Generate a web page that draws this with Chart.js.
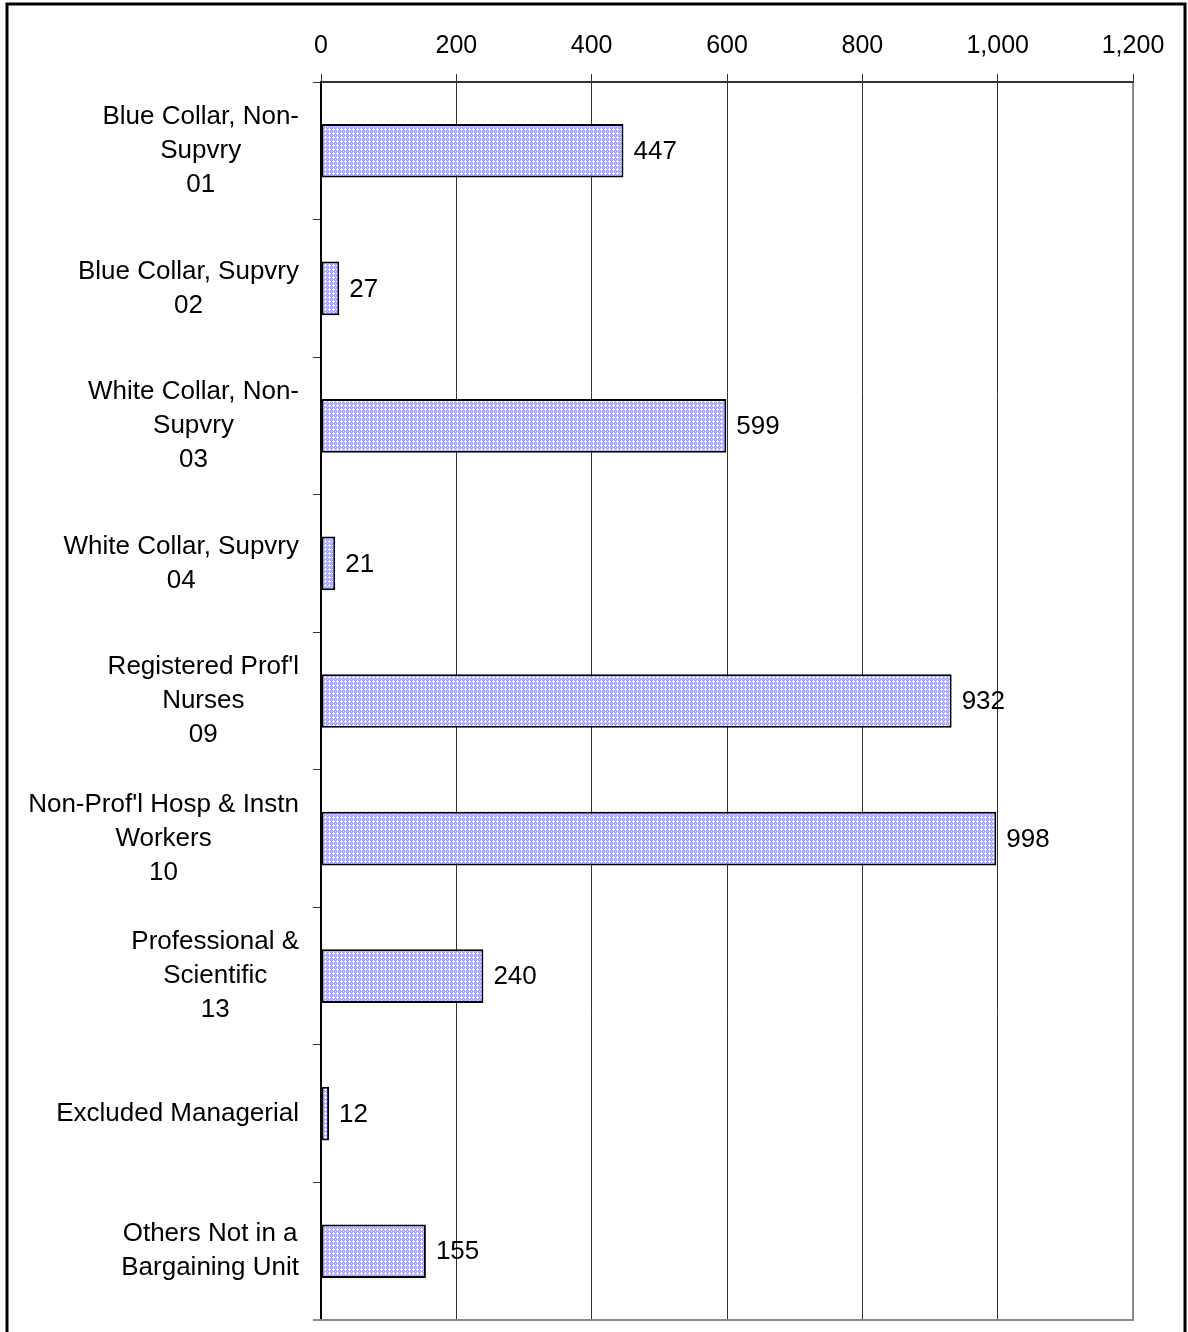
<!DOCTYPE html>
<html>
<head>
<meta charset="utf-8">
<script src="https://cdn.jsdelivr.net/npm/chart.js@4/dist/chart.umd.min.js"></script>
<style>
  html, body { margin: 0; padding: 0; background: #fff; }
  #wrap { width: 1188px; height: 1332px; position: relative; }
</style>
</head>
<body>
<div id="wrap"><canvas id="chart"></canvas></div>
<script>
// Category labels (one entry per line of the wrapped label)
const categories = [
    ['Blue Collar, Non-', 'Supvry', '01'],
    ['Blue Collar, Supvry', '02'],
    ['White Collar, Non-', 'Supvry', '03'],
    ['White Collar, Supvry', '04'],
    ["Registered Prof'l", 'Nurses', '09'],
    ["Non-Prof'l Hosp & Instn", 'Workers', '10'],
    ['Professional &', 'Scientific', '13'],
    ['Excluded Managerial'],
    ['Others Not in a', 'Bargaining Unit']
];
const counts = [447, 27, 599, 21, 932, 998, 240, 12, 155];
const xTicks = [0, 200, 400, 600, 800, 1000, 1200];

const FONT = '"Liberation Sans", Arial, sans-serif';

// light periwinkle crosshatch fill, like the Excel pattern
function makeHatch() {
    const c = document.createElement('canvas');
    c.width = 4; c.height = 4;
    const g = c.getContext('2d');
    g.fillStyle = '#a9a9f7';
    g.fillRect(0, 0, 4, 4);
    g.fillStyle = '#ffffff';
    g.fillRect(1, 0, 1, 3);
    g.fillRect(0, 1, 3, 1);
    g.fillStyle = '#d6d6fb';
    g.fillRect(3, 3, 1, 1);
    return g.createPattern(c, 'repeat');
}

// outer frame + grey plot-area edges
const framePlugin = {
    id: 'frame',
    afterDraw(chart) {
        const ctx = chart.ctx, a = chart.chartArea;
        ctx.save();
        ctx.strokeStyle = '#000';
        ctx.lineWidth = 3;
        ctx.beginPath();
        ctx.moveTo(7, chart.height);
        ctx.lineTo(7, 4);
        ctx.lineTo(chart.width - 3, 4);
        ctx.lineTo(chart.width - 3, chart.height);
        ctx.stroke();

        ctx.strokeStyle = '#8a8a8a';
        ctx.lineWidth = 2;
        ctx.beginPath();
        ctx.moveTo(a.left - 8, a.bottom);
        ctx.lineTo(a.right, a.bottom);
        ctx.lineTo(a.right, a.top + 1);
        ctx.stroke();
        ctx.restore();
    }
};

// wrapped, centred category labels sitting left of the axis
const catLabelPlugin = {
    id: 'catLabels',
    afterDraw(chart) {
        const ctx = chart.ctx, yScale = chart.scales.y;
        const rightEdge = chart.chartArea.left - 22;
        ctx.save();
        ctx.font = '26px ' + FONT;
        ctx.fillStyle = '#000';
        ctx.textAlign = 'center';
        ctx.textBaseline = 'middle';
        categories.forEach((lines, i) => {
            const cy = yScale.getPixelForValue(i);
            const w = Math.max(...lines.map(l => ctx.measureText(l).width));
            const cx = rightEdge - w / 2;
            lines.forEach((l, j) => {
                ctx.fillText(l, cx, cy + (j - (lines.length - 1) / 2) * 34);
            });
        });
        ctx.restore();
    }
};

// value labels at the end of each bar
const valueLabelPlugin = {
    id: 'valueLabels',
    afterDatasetsDraw(chart) {
        const ctx = chart.ctx;
        const meta = chart.getDatasetMeta(0);
        ctx.save();
        ctx.font = '26px ' + FONT;
        ctx.fillStyle = '#000';
        ctx.textAlign = 'left';
        ctx.textBaseline = 'middle';
        meta.data.forEach((bar, i) => {
            ctx.fillText(String(counts[i]), bar.x + 10, bar.y + 1);
        });
        ctx.restore();
    }
};

const ctx = document.getElementById('chart').getContext('2d');
new Chart(ctx, {
    type: 'bar',
    data: {
        labels: categories.map(l => l.join(' ')),
        datasets: [{
            data: counts,
            backgroundColor: makeHatch(),
            borderColor: '#000',
            borderWidth: 2,
            borderSkipped: false,
            barPercentage: 0.39,
            categoryPercentage: 1
        }]
    },
    options: {
        indexAxis: 'y',
        responsive: true,
        maintainAspectRatio: false,
        animation: false,
        layout: { padding: { left: 0, right: 55, top: 0, bottom: 12 } },
        plugins: {
            legend: { display: false },
            tooltip: { enabled: false }
        },
        scales: {
            x: {
                position: 'top',
                min: 0,
                max: 1200,
                afterBuildTicks: scale => { scale.ticks = xTicks.map(v => ({ value: v })); },
                afterFit: scale => { scale.height = 82; },
                grid: { color: '#333', lineWidth: 1, tickLength: 8 },
                border: { color: '#333', width: 2 },
                ticks: {
                    color: '#000',
                    padding: 13,
                    font: { family: FONT, size: 25 },
                    callback: v => v.toLocaleString('en-US')
                }
            },
            y: {
                afterFit: scale => { scale.width = 321; },
                grid: { drawOnChartArea: false, color: '#333', tickLength: 8, offset: true },
                border: { color: '#000', width: 2 },
                ticks: { display: false }
            }
        }
    },
    plugins: [valueLabelPlugin, catLabelPlugin, framePlugin]
});
</script>
</body>
</html>
